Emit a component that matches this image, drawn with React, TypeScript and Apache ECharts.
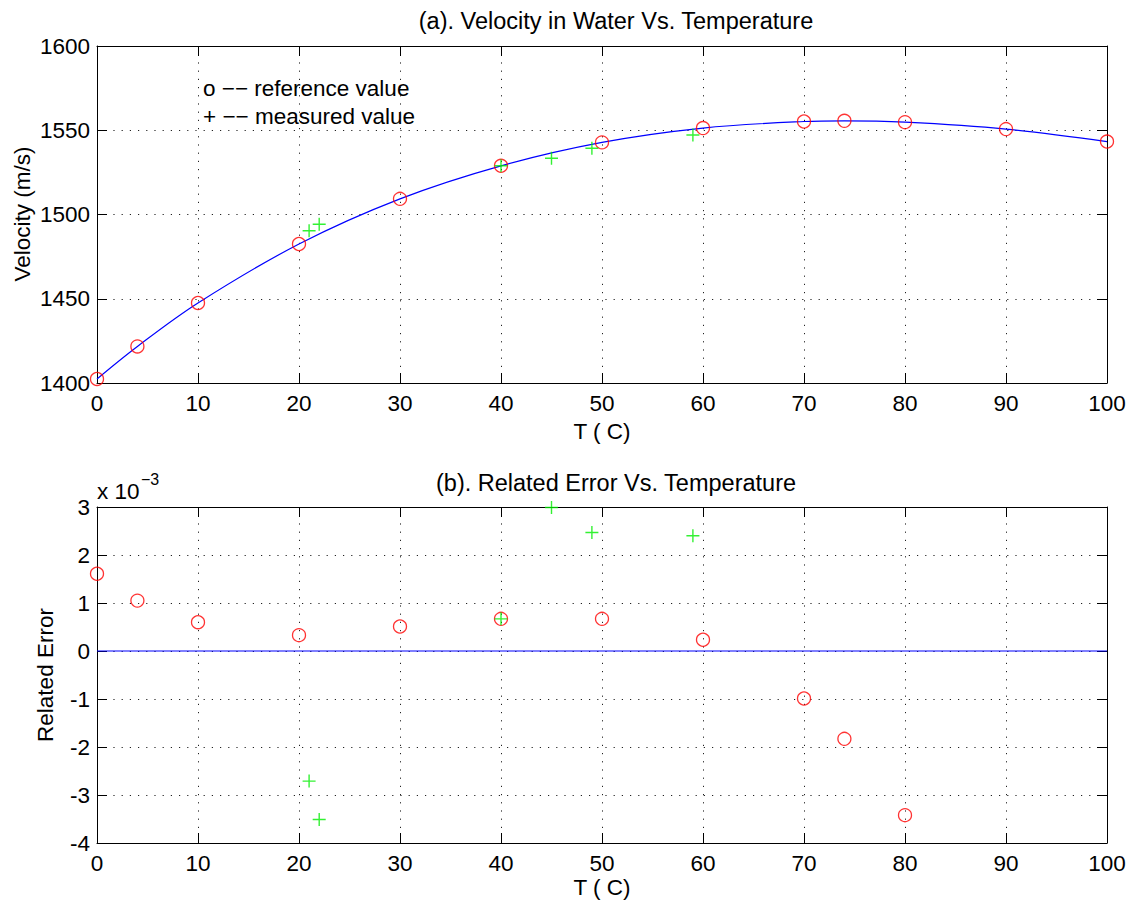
import React, { useEffect, useRef } from "react";
import * as echarts from "echarts";

// ---- data ----
const refTemps = [0, 4, 10, 20, 30, 40, 50, 60, 70, 74, 80, 90, 100];
const refVelocity = [1402.4, 1421.7, 1447.5, 1482.5, 1509.3, 1528.9, 1542.8, 1551.3, 1555.2, 1555.6, 1554.8, 1550.7, 1543.3];
const measTemps = [21, 22, 40, 45, 49, 59];
const measVelocity = [1490.4, 1494.2, 1528.9, 1533.4, 1539.3, 1547.2];

// related error, in units of 10^-3
const refErrTemps = [0, 4, 10, 20, 30, 40, 50, 60, 70, 74, 80];
const refError = [1.61, 1.05, 0.6, 0.33, 0.51, 0.67, 0.67, 0.235, -0.99, -1.83, -3.42];
const measError = [-2.71, -3.51, 0.67, 2.99, 2.47, 2.4];
const zeroLineTemps = [0, 100];
const zeroLineError = [0, 0];

const titleA = "(a). Velocity in Water Vs. Temperature";
const titleB = "(b). Related Error Vs. Temperature";
const xLabel = "T ( C)";
const yLabelA = "Velocity (m/s)";
const yLabelB = "Related Error";
const legendLines = ["o \u2212\u2212 reference value", "+ \u2212\u2212 measured value"];

const FONT = "'Liberation Sans', Arial, Helvetica, sans-serif";
const FS = 22.5;
const TITLE_FS = 23.5;

const zip = (xs: number[], ys: number[]) => xs.map((x, i) => [x, ys[i]]);

const PLUS = "path://M0,6L12,6M6,0L6,12";

function axisPair(gridIndex: number, min: number, max: number, interval: number, showLabel: boolean, pos: string, isX: boolean) {
  return {
    type: "value",
    gridIndex,
    min,
    max,
    interval,
    position: pos,
    axisLine: { show: true, onZero: false, lineStyle: { color: "#000", width: 1 } },
    axisTick: { show: true, inside: true, length: 10, lineStyle: { color: "#000", width: 1 } },
    axisLabel: {
      show: showLabel,
      color: "#000",
      fontSize: FS,
      fontFamily: FONT,
      margin: isX ? 9 : 7,
      formatter: (v: number) => String(Math.round(v)),
    },
    splitLine: showLabel
      ? { show: true, lineStyle: { color: "#222", width: 1, type: [1.2, 7] } }
      : { show: false },
  };
}

export default function App() {
  const ref = useRef<HTMLDivElement>(null);
  useEffect(() => {
    if (!ref.current) return;
    const chart = echarts.init(ref.current, null, { renderer: "svg" });
    const circleStyle = { color: "rgba(0,0,0,0)", borderColor: "#ff0000", borderWidth: 1.3 };
    const plusStyle = { color: "rgba(0,0,0,0)", borderColor: "#00ee00", borderWidth: 1.4 };
    const txt = (text: string, x: number, y: number, extra: any = {}, rot = 0) => ({
      type: "text",
      x,
      y,
      rotation: rot,
      silent: true,
      style: { text, fill: "#000", fontSize: FS, fontFamily: FONT, align: "center", verticalAlign: "middle", ...extra },
    });
    chart.setOption({
      animation: false,
      backgroundColor: "#fff",
      grid: [
        { left: 97, top: 46, width: 1010, height: 337 },
        { left: 97, top: 507, width: 1010, height: 336 },
      ],
      xAxis: [
        axisPair(0, 0, 100, 10, true, "bottom", true),
        axisPair(0, 0, 100, 10, false, "top", true),
        axisPair(1, 0, 100, 10, true, "bottom", true),
        axisPair(1, 0, 100, 10, false, "top", true),
      ],
      yAxis: [
        axisPair(0, 1400, 1600, 50, true, "left", false),
        axisPair(0, 1400, 1600, 50, false, "right", false),
        axisPair(1, -4, 3, 1, true, "left", false),
        axisPair(1, -4, 3, 1, false, "right", false),
      ],
      graphic: [
        txt(titleA, 616, 21, { fontSize: TITLE_FS }),
        txt(xLabel, 602, 431),
        txt(yLabelA, 22, 214, {}, Math.PI / 2),
        txt(legendLines[0], 203, 88, { align: "left" }),
        txt(legendLines[1], 203, 116, { align: "left" }),
        txt(titleB, 616, 483, { fontSize: TITLE_FS }),
        txt(xLabel, 602, 887),
        txt(yLabelB, 45, 675, {}, Math.PI / 2),
        txt("x 10", 97, 491, { align: "left" }),
        txt("\u22123", 141, 479, { align: "left", fontSize: 16 }),
      ],
      series: [
        {
          type: "line",
          xAxisIndex: 0,
          yAxisIndex: 0,
          data: zip(refTemps, refVelocity),
          smooth: 0.35,
          showSymbol: false,
          silent: true,
          lineStyle: { color: "#0000ff", width: 1.2 },
          z: 2,
        },
        {
          type: "scatter",
          xAxisIndex: 0,
          yAxisIndex: 0,
          data: zip(refTemps, refVelocity),
          symbol: "circle",
          symbolSize: 13,
          silent: true,
          clip: false,
          itemStyle: circleStyle,
          z: 3,
        },
        {
          type: "scatter",
          xAxisIndex: 0,
          yAxisIndex: 0,
          data: zip(measTemps, measVelocity),
          symbol: PLUS,
          symbolSize: 13,
          silent: true,
          clip: false,
          itemStyle: plusStyle,
          z: 4,
        },
        {
          type: "line",
          xAxisIndex: 2,
          yAxisIndex: 2,
          data: zip(zeroLineTemps, zeroLineError),
          showSymbol: false,
          silent: true,
          lineStyle: { color: "#0000ff", width: 1.2 },
          z: 2,
        },
        {
          type: "scatter",
          xAxisIndex: 2,
          yAxisIndex: 2,
          data: zip(refErrTemps, refError),
          symbol: "circle",
          symbolSize: 13,
          silent: true,
          clip: false,
          itemStyle: circleStyle,
          z: 3,
        },
        {
          type: "scatter",
          xAxisIndex: 2,
          yAxisIndex: 2,
          data: zip(measTemps, measError),
          symbol: PLUS,
          symbolSize: 13,
          silent: true,
          clip: false,
          itemStyle: plusStyle,
          z: 4,
        },
      ],
    });
    return () => chart.dispose();
  }, []);
  return <div ref={ref} style={{ position: "fixed", left: 0, top: 0, width: 1134, height: 905 }} />;
}
